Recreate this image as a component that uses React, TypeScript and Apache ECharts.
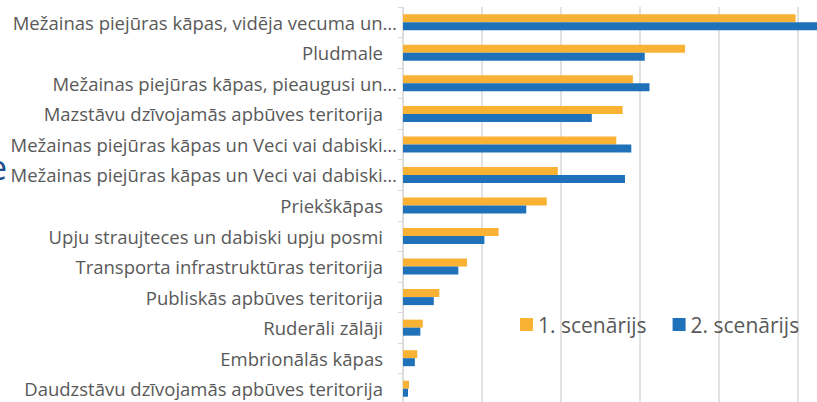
import React, { useEffect, useRef } from "react";
import * as echarts from "echarts";

const categories = [
  "Mežainas piejūras kāpas, vidēja vecuma un…",
  "Pludmale",
  "Mežainas piejūras kāpas, pieaugusi un…",
  "Mazstāvu dzīvojamās apbūves teritorija",
  "Mežainas piejūras kāpas un Veci vai dabiski…",
  "Mežainas piejūras kāpas un Veci vai dabiski…",
  "Priekškāpas",
  "Upju straujteces un dabiski upju posmi",
  "Transporta infrastruktūras teritorija",
  "Publiskās apbūves teritorija",
  "Ruderāli zālāji",
  "Embrionālās kāpas",
  "Daudzstāvu dzīvojamās apbūves teritorija",
];
const truncated = [true, false, true, false, true, true, false, false, false, false, false, false, false];
const scenario1 = [49.7, 35.7, 29.1, 27.8, 27.0, 19.6, 18.2, 12.1, 8.1, 4.6, 2.5, 1.8, 0.76];
const scenario2 = [54, 30.6, 31.2, 23.9, 28.9, 28.1, 15.6, 10.3, 7.0, 3.9, 2.2, 1.5, 0.63];
const seriesNames = ["1. scenārijs", "2. scenārijs"];

export default function App() {
  const ref = useRef<HTMLDivElement>(null);
  useEffect(() => {
    if (!ref.current) return;
    const chart = echarts.init(ref.current, null, { renderer: "svg" });
    const font = "Open Sans";
    const labelSize = 18.5;
    chart.setOption({
      animation: false,
      textStyle: { fontFamily: font },
      grid: { left: 403, right: 23, top: 7, bottom: 6, containLabel: false },
      legend: {
        left: 515,
        top: 309,
        itemWidth: 13,
        itemHeight: 13,
        itemGap: 26,
        icon: "rect",
        textStyle: { fontSize: 21, color: "#595959", fontFamily: font },
        data: seriesNames,
      },
      xAxis: {
        type: "value",
        min: 0,
        max: 60,
        interval: 10,
        axisLabel: { show: false },
        axisLine: { show: false },
        axisTick: { show: false },
        splitLine: { show: true, lineStyle: { color: "#d9d9d9", width: 1.5 } },
      },
      yAxis: {
        type: "category",
        inverse: true,
        data: categories,
        axisLine: { show: true, lineStyle: { color: "#d9d9d9", width: 1 } },
        axisTick: { show: true, length: 5, lineStyle: { color: "#d9d9d9" } },
        axisLabel: {
          margin: 6,
          color: "#595959",
          fontSize: labelSize,
          fontFamily: font,
          formatter: (v: string, i: number) => (truncated[i] ? `{t|${v}}` : `{n|${v}}`),
          rich: {
            t: { fontSize: labelSize, color: "#595959", fontFamily: font },
            n: { fontSize: labelSize, color: "#595959", fontFamily: font, padding: [0, 14, 0, 0] },
          },
        },
      },
      series: [
        {
          name: seriesNames[0],
          type: "bar",
          data: scenario1,
          barWidth: 8,
          barGap: "0%",
          itemStyle: { color: "#F9B233" },
        },
        {
          name: seriesNames[1],
          type: "bar",
          data: scenario2,
          barWidth: 8,
          barGap: "0%",
          itemStyle: { color: "#1F72B9" },
        },
      ],
      graphic: [
        {
          type: "text",
          left: -12,
          top: 150,
          style: { text: "e", fontSize: 34, fill: "#1F4E8C", fontFamily: font },
        },
      ],
    });
    return () => chart.dispose();
  }, []);
  return (
    <div style={{ position: "absolute", left: 0, top: 0, width: 817, height: 402, overflow: "hidden" }}>
      <div ref={ref} style={{ width: 900, height: 410 }} />
    </div>
  );
}
